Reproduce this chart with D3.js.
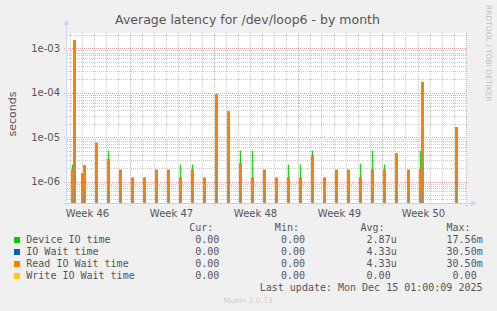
<!DOCTYPE html>
<html><head><meta charset="utf-8">
<script src="https://cdn.jsdelivr.net/npm/d3@7"></script>
<style>body{margin:0;background:#f0f0f0;} svg{display:block;}</style>
</head><body>
<svg id="c" width="497" height="311"></svg>
<script>
// ---------- data ----------
const title = "Average latency for /dev/loop6 - by month";
const yLabel = "seconds";
const sideNote = "RRDTOOL / TOBI OETIKER";
const footer = "Munin 2.0.73";
const lastUpdate = "Last update: Mon Dec 15 01:00:09 2025";

const spikeTimes = [
  "2025-11-12T06:00","2025-11-12T10:00","2025-11-13T02:00","2025-11-13T06:00",
  "2025-11-14T06:00","2025-11-15T06:00","2025-11-16T06:00","2025-11-17T06:00",
  "2025-11-18T06:00","2025-11-19T06:00","2025-11-20T06:00","2025-11-21T06:00",
  "2025-11-22T06:00","2025-11-23T06:00","2025-11-24T06:00","2025-11-25T06:00",
  "2025-11-26T06:00","2025-11-27T06:00","2025-11-28T06:00","2025-11-29T06:00",
  "2025-11-30T06:00","2025-12-01T06:00","2025-12-02T06:00","2025-12-03T06:00",
  "2025-12-04T06:00","2025-12-05T06:00","2025-12-06T06:00","2025-12-07T06:00",
  "2025-12-08T06:00","2025-12-09T06:00","2025-12-10T06:00","2025-12-11T06:00",
  "2025-12-11T10:00","2025-12-14T06:00"
];
const deviceIO = [
  2.4e-6, 1.4e-3, 1.5e-6, 2.2e-6,
  7.0e-6, 4.9e-6, 1.8e-6, 1.2e-6,
  1.2e-6, 1.8e-6, 1.8e-6, 2.4e-6,
  2.4e-6, 1.2e-6, 8.5e-5, 3.5e-5,
  4.9e-6, 4.9e-6, 1.8e-6, 1.2e-6,
  2.4e-6, 2.4e-6, 4.9e-6, 1.2e-6,
  1.8e-6, 1.8e-6, 2.5e-6, 4.9e-6,
  2.4e-6, 4.0e-6, 1.8e-6, 4.9e-6,
  1.76e-4, 1.5e-5
];
const ioWait = [
  1.8e-6, 1.48e-3, 1.5e-6, 2.26e-6,
  7.3e-6, 3.1e-6, 1.8e-6, 1.2e-6,
  1.2e-6, 1.8e-6, 1.8e-6, 1.2e-6,
  1.8e-6, 1.2e-6, 9.0e-5, 3.7e-5,
  2.5e-6, 1.2e-6, 1.8e-6, 1.2e-6,
  1.2e-6, 1.2e-6, 3.7e-6, 1.2e-6,
  1.8e-6, 1.8e-6, 1.2e-6, 1.8e-6,
  1.8e-6, 4.2e-6, 1.8e-6, 1.8e-6,
  1.66e-4, 1.64e-5
];
const readIOWait = ioWait.slice();
const writeIOWait = spikeTimes.map(() => 0);

const timeDomain = ["2025-11-11T19:00", "2025-12-15T03:00"];
const valueDomain = [3.3e-7, 2.2e-3];
const yTickValues = [1e-6, 1e-5, 1e-4, 1e-3];
const yTickLabels = ["1e-06", "1e-05", "1e-04", "1e-03"];
const weekLabels = ["Week 46", "Week 47", "Week 48", "Week 49", "Week 50"];
const weekLabelTimes = ["2025-11-13T12:00","2025-11-20T12:00","2025-11-27T12:00","2025-12-04T12:00","2025-12-11T12:00"];

const legendNames = ["Device IO time", "IO Wait time", "Read IO Wait time", "Write IO Wait time"];
const legendColors = ["#00cc00", "#0066b3", "#ff8000", "#ffcc00"];
const legendCur = ["0.00", "0.00", "0.00", "0.00"];
const legendMin = ["0.00", "0.00", "0.00", "0.00"];
const legendAvg = ["2.87u", "4.33u", "4.33u", "0.00"];
const legendMax = ["17.56m", "30.50m", "30.50m", "0.00"];
const legendHeaders = ["Cur:", "Min:", "Avg:", "Max:"];

(function () {
// ---------- layout ----------
const W = 497, H = 311;
const pL = 67, pR = 467, pT = 33, pB = 203;
const parse = d3.utcParse("%Y-%m-%dT%H:%M");
const HOUR = 3600e3;

const svg = d3.select("#c");
svg.append("rect").attr("width", W).attr("height", H).attr("fill", "#f0f0f0");
svg.append("rect").attr("x", pL).attr("y", pT).attr("width", pR - pL).attr("height", pB - pT).attr("fill", "#ffffff");

const t0 = parse(timeDomain[0]), t1 = parse(timeDomain[1]);
const x = d3.scaleUtc().domain([t0, t1]).range([pL, pR]);
const y = d3.scaleLog().domain(valueDomain).range([pB, pT]).clamp(true);

const defs = svg.append("defs");
const g1 = defs.append("linearGradient").attr("id", "og").attr("x1", 0).attr("y1", 0).attr("x2", 0).attr("y2", 1);
g1.append("stop").attr("offset", "0%").attr("stop-color", "#ff8000");
g1.append("stop").attr("offset", "50%").attr("stop-color", "#f58410");
g1.append("stop").attr("offset", "100%").attr("stop-color", "#b08450");
defs.append("clipPath").attr("id", "pc").append("rect")
  .attr("x", pL).attr("y", pT - 1).attr("width", pR - pL + 1).attr("height", pB - pT + 1);

// ---------- grid ----------
const grid = svg.append("g");
const minorCol = "#c8c8c8", majorCol = "#e4a0a0";
const minorVals = [];
for (let e = -7; e <= -3; e++) for (let m = 2; m <= 9; m++) {
  const v = m * Math.pow(10, e);
  if (v > valueDomain[0] && v < valueDomain[1]) minorVals.push(v);
}
grid.selectAll(".hm").data(minorVals).join("line")
  .attr("x1", pL).attr("x2", pR)
  .attr("y1", d => Math.round(y(d)) + 0.5).attr("y2", d => Math.round(y(d)) + 0.5)
  .attr("stroke", minorCol).attr("stroke-dasharray", "1,1");
const days = d3.utcDay.range(t0, t1).filter(d => d.getUTCDay() !== 1);
grid.selectAll(".vm").data(days).join("line")
  .attr("x1", d => Math.round(x(d)) + 0.5).attr("x2", d => Math.round(x(d)) + 0.5)
  .attr("y1", pT).attr("y2", pB)
  .attr("stroke", minorCol).attr("stroke-dasharray", "1,1");
grid.selectAll(".hM").data(yTickValues).join("line")
  .attr("x1", pL - 3).attr("x2", pR)
  .attr("y1", d => Math.round(y(d)) + 0.5).attr("y2", d => Math.round(y(d)) + 0.5)
  .attr("stroke", majorCol).attr("stroke-dasharray", "1,1");
const weeks = d3.utcMonday.range(t0, t1);
grid.selectAll(".vM").data(weeks).join("line")
  .attr("x1", d => Math.round(x(d)) + 0.5).attr("x2", d => Math.round(x(d)) + 0.5)
  .attr("y1", pT).attr("y2", pB + 3)
  .attr("stroke", majorCol).attr("stroke-dasharray", "1,1");

// ---------- series ----------
const plot = svg.append("g").attr("clip-path", "url(#pc)");
function spikePath(t, v, halfHours) {
  const a = x(new Date(t.getTime() - halfHours * HOUR));
  const b = x(new Date(t.getTime() + halfHours * HOUR));
  const yv = v > 0 ? y(v) : pB;
  return `M${a},${pB}V${yv}H${b}V${pB}`;
}
const times = spikeTimes.map(parse);
plot.selectAll(".dev").data(times).join("path")
  .attr("d", (t, i) => spikePath(t, deviceIO[i], 0.8))
  .attr("fill", "#00cc00").attr("stroke", "#00cc00").attr("stroke-width", 0.4);
plot.selectAll(".iow").data(times).join("path")
  .attr("d", (t, i) => spikePath(t, ioWait[i], 2))
  .attr("fill", "none").attr("stroke", "#0066b3").attr("stroke-width", 1);
plot.selectAll(".rd").data(times).join("path")
  .attr("d", (t, i) => spikePath(t, readIOWait[i], 2))
  .attr("fill", "url(#og)").attr("stroke", "#ff8000").attr("stroke-width", 1);

// ---------- axes ----------
const axisCol = "#cfd6f8";
svg.append("line").attr("x1", pL - 0.5).attr("x2", pL - 0.5).attr("y1", pB + 3).attr("y2", 24).attr("stroke", axisCol);
svg.append("path").attr("d", `M${pL - 3.5},25L${pL - 0.5},19L${pL + 2.5},25Z`).attr("fill", axisCol);
svg.append("line").attr("x1", pL - 3).attr("x2", 472).attr("y1", pB + 0.5).attr("y2", pB + 0.5).attr("stroke", axisCol);
svg.append("path").attr("d", `M471,${pB - 2.5}L477,${pB + 0.5}L471,${pB + 3.5}Z`).attr("fill", axisCol);
svg.append("path")
  .attr("d", d3.line().x(d => x(d)).y(() => pB + 0.5)([t0, t1]))
  .attr("stroke", "#ffcc00").attr("stroke-opacity", 0.45).attr("stroke-width", 1.2).attr("fill", "none");

svg.selectAll(".yl").data(yTickValues).join("text")
  .attr("x", 60).attr("y", d => y(d) + 3.5)
  .attr("text-anchor", "end").attr("font-family", "DejaVu Sans").attr("font-size", 10)
  .attr("fill", "#555").text((d, i) => yTickLabels[i]);
svg.selectAll(".xl").data(weekLabelTimes).join("text")
  .attr("x", d => x(parse(d))).attr("y", 216.5)
  .attr("text-anchor", "middle").attr("font-family", "DejaVu Sans").attr("font-size", 10)
  .attr("fill", "#555").text((d, i) => weekLabels[i]);

svg.append("text").attr("x", 247.5).attr("y", 24).attr("text-anchor", "middle")
  .attr("font-family", "DejaVu Sans").attr("font-size", 12.5).attr("fill", "#555").text(title);
svg.append("text").attr("transform", `translate(15.5,${(pT + pB) / 2 - 4}) rotate(-90)`)
  .attr("text-anchor", "middle").attr("font-family", "DejaVu Sans").attr("font-size", 11)
  .attr("fill", "#555").text(yLabel);
svg.append("text").attr("transform", `translate(486,5) rotate(90)`)
  .attr("text-anchor", "start").attr("font-family", "DejaVu Sans").attr("font-size", 7.5)
  .attr("fill", "#c0c0c0").text(sideNote);

// ---------- legend ----------
const mono = "DejaVu Sans Mono";
const cw = 6.02;
const colRights = [225.3, 311, 396.7, 482.7];
const lg = svg.append("g").attr("font-family", mono).attr("font-size", 10).attr("fill", "#555");
legendHeaders.forEach((h, j) => {
  lg.append("text").attr("x", colRights[j] - 2 * cw).attr("y", 231).attr("text-anchor", "end").text(h);
});
const cols = [legendCur, legendMin, legendAvg, legendMax];
legendNames.forEach((name, i) => {
  const by = 243 + i * 12;
  lg.append("rect").attr("x", 14).attr("y", by - 6).attr("width", 6).attr("height", 6).attr("fill", legendColors[i]);
  lg.append("text").attr("x", 26.3).attr("y", by).text(name);
  cols.forEach((col, j) => {
    const s = col[i];
    const hasUnit = /[a-zA-Z]$/.test(s);
    lg.append("text").attr("x", colRights[j] - (hasUnit ? 0 : cw)).attr("y", by).attr("text-anchor", "end").text(s);
  });
});
lg.append("text").attr("x", 482.5).attr("y", 291).attr("text-anchor", "end").text(lastUpdate);
svg.append("text").attr("x", 248).attr("y", 302.5).attr("text-anchor", "middle")
  .attr("font-family", "DejaVu Sans").attr("font-size", 7.5).attr("fill", "#cccccc").text(footer);
})();
</script>
</body></html>
